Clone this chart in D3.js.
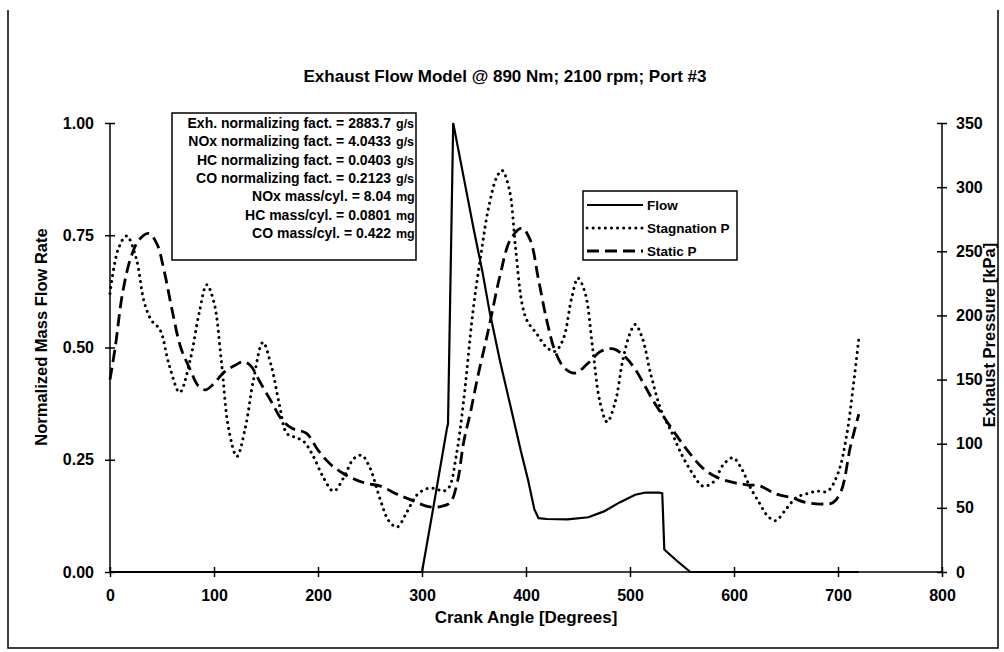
<!DOCTYPE html>
<html>
<head>
<meta charset="utf-8">
<script src="https://cdn.jsdelivr.net/npm/d3@7"></script>
<style>
  body { margin: 0; background: #fff; }
  text { font-family: "Liberation Sans", Arial, sans-serif; font-weight: bold; fill: #000; }
</style>
</head>
<body>
<div id="chart"></div>
<script>
// crank angle [deg] and normalized mass flow rate
const flowDeg = [0, 300, 311, 324, 325, 330, 340, 350, 358, 365, 375, 385, 395, 402, 408, 412, 420, 440, 460, 475, 490, 505, 515, 528, 531, 533, 545, 558, 720];
const flowVal = [0, 0, 0.145, 0.32, 0.33, 1.0, 0.88, 0.76, 0.67, 0.58, 0.47, 0.37, 0.27, 0.205, 0.14, 0.12, 0.118, 0.117, 0.122, 0.135, 0.155, 0.172, 0.177, 0.177, 0.175, 0.05, 0.025, 0, 0];

// stagnation pressure [kPa]
const stagDeg = [0, 8, 16, 25, 33, 40, 48, 57, 67, 77, 86, 93, 100, 107, 114, 122, 130, 138, 147, 155, 163, 170, 178, 186, 195, 205, 215, 225, 234, 242, 250, 260, 268, 276, 285, 295, 305, 313, 320, 326, 333, 340, 349, 357, 364, 372, 377, 384, 390, 396, 401, 410, 420, 428, 436, 444, 450, 457, 464, 471, 478, 486, 493, 500, 505, 512, 520, 530, 540, 550, 560, 570, 580, 590, 599, 607, 615, 625, 632, 640, 650, 660, 670, 680, 690, 700, 708, 715, 720];
const stagKpa = [217, 252, 262, 245, 210, 196, 189, 161, 140, 165, 203, 224, 210, 165, 112, 90, 112, 150, 179, 161, 130, 108, 105, 102, 91, 74, 63, 74, 88, 91, 81, 56, 40, 35, 46, 60, 65, 65, 63, 66, 91, 133, 203, 249, 284, 308, 313, 298, 252, 210, 196, 186, 175, 172, 182, 214, 229, 217, 175, 133, 117, 133, 165, 186, 193, 182, 154, 126, 109, 91, 77, 67, 70, 84, 89, 81, 67, 53, 44, 40, 49, 58, 61, 63, 63, 77, 105, 147, 182];

// static pressure [kPa]
const staticDeg = [0, 5, 12, 20, 28, 37, 45, 52, 60, 68, 77, 85, 92, 100, 110, 120, 128, 135, 145, 155, 165, 175, 189, 200, 212, 224, 236, 247, 260, 275, 290, 306, 318, 327, 334, 340, 347, 353, 360, 365, 375, 385, 396, 404, 412, 420, 428, 437, 447, 460, 472, 484, 495, 505, 515, 525, 540, 555, 570, 583, 598, 612, 625, 640, 655, 670, 685, 695, 703, 712, 720];
const staticKpa = [150, 175, 217, 245, 259, 264, 256, 235, 203, 175, 158, 145, 142, 147, 156, 161, 164, 161, 147, 133, 119, 112, 108, 95, 84, 77, 72, 69, 67, 61, 56, 51, 51, 54, 70, 101, 126, 150, 175, 193, 231, 259, 268, 259, 228, 196, 172, 159, 155, 163, 172, 174, 168, 158, 144, 130, 112, 95, 81, 74, 70, 68, 67, 61, 58, 54, 53, 54, 63, 98, 123];

const xTicks = [0, 100, 200, 300, 400, 500, 600, 700, 800];
const yLeftTicks = [0, 0.25, 0.5, 0.75, 1.0];
const yRightTicks = [0, 50, 100, 150, 200, 250, 300, 350];

const seriesNames = ['Flow', 'Stagnation P', 'Static P'];
const notes = [
  ['Exh. normalizing fact. = 2883.7', 'g/s'],
  ['NOx normalizing fact. = 4.0433', 'g/s'],
  ['HC normalizing fact. = 0.0403', 'g/s'],
  ['CO normalizing fact. = 0.2123', 'g/s'],
  ['NOx mass/cyl. = 8.04', 'mg'],
  ['HC mass/cyl. = 0.0801', 'mg'],
  ['CO mass/cyl. = 0.422', 'mg']
];

const width = 1004, height = 652;
const svg = d3.select('#chart').append('svg')
  .attr('width', width)
  .attr('height', height);

// frame
svg.append('path')
  .attr('d', 'M8,10 V648 H998 V10')
  .attr('fill', 'none')
  .attr('stroke', '#000')
  .attr('stroke-width', 1.5);

const x = d3.scaleLinear().domain([0, 800]).range([110, 942]);
const yL = d3.scaleLinear().domain([0, 1]).range([572, 123]);
const yR = d3.scaleLinear().domain([0, 350]).range([572, 123]);

// axes with crossing ticks
const xAxis = svg.append('g')
  .attr('transform', `translate(0,${yL(0)})`)
  .call(d3.axisBottom(x).tickValues(xTicks).tickSize(5).tickPadding(13).tickFormat(d3.format('d')));
const yAxisL = svg.append('g')
  .attr('transform', `translate(${x(0)},0)`)
  .call(d3.axisLeft(yL).tickValues(yLeftTicks).tickSize(5).tickPadding(11).tickFormat(d3.format('.2f')));
const yAxisR = svg.append('g')
  .attr('transform', `translate(${x(800)},0)`)
  .call(d3.axisRight(yR).tickValues(yRightTicks).tickSize(5).tickPadding(9).tickFormat(d3.format('d')));

[xAxis, yAxisL, yAxisR].forEach(g => {
  g.select('.domain').attr('stroke', '#000').attr('stroke-width', 1.5);
  g.selectAll('.tick line').attr('stroke', '#000').attr('stroke-width', 1.5);
  g.selectAll('.tick text').style('font-size', '16px').style('font-family', '"Liberation Sans", Arial, sans-serif').style('font-weight', 'bold');
});
xAxis.select('.domain').attr('d', `M${x(0)},0H${x(800)}`);
yAxisL.select('.domain').attr('d', `M0,${yL(0)}V${yL(1)}`);
yAxisR.select('.domain').attr('d', `M0,${yR(0)}V${yR(350)}`);
// ticks cross the axis line
xAxis.selectAll('.tick line').attr('y1', -5);
yAxisL.selectAll('.tick line').attr('x1', 5);
yAxisR.selectAll('.tick line').attr('x1', -5);

// lines
const lineL = d3.line().x(d => x(d[0])).y(d => yL(d[1]));
const lineR = d3.line().x(d => x(d[0])).y(d => yR(d[1])).curve(d3.curveCatmullRom.alpha(0.5));

svg.append('path')
  .datum(d3.zip(stagDeg, stagKpa))
  .attr('d', lineR)
  .attr('fill', 'none')
  .attr('stroke', '#000')
  .attr('stroke-width', 3)
  .attr('stroke-linecap', 'round')
  .attr('stroke-dasharray', '0.1 6');

svg.append('path')
  .datum(d3.zip(staticDeg, staticKpa))
  .attr('d', lineR)
  .attr('fill', 'none')
  .attr('stroke', '#000')
  .attr('stroke-width', 2.8)
  .attr('stroke-dasharray', '12 6');

svg.append('path')
  .datum(d3.zip(flowDeg, flowVal))
  .attr('d', lineL)
  .attr('fill', 'none')
  .attr('stroke', '#000')
  .attr('stroke-width', 2.2);

// title and axis labels
svg.append('text')
  .attr('x', 505).attr('y', 82)
  .attr('text-anchor', 'middle')
  .style('font-size', '17px')
  .text('Exhaust Flow Model @ 890 Nm; 2100 rpm;  Port #3');

svg.append('text')
  .attr('transform', 'translate(47,337) rotate(-90)')
  .attr('text-anchor', 'middle')
  .style('font-size', '16.5px')
  .text('Normalized Mass Flow Rate');

svg.append('text')
  .attr('transform', 'translate(995,335) rotate(-90)')
  .attr('text-anchor', 'middle')
  .style('font-size', '16.5px')
  .text('Exhaust Pressure [kPa]');

svg.append('text')
  .attr('x', 526).attr('y', 623)
  .attr('text-anchor', 'middle')
  .style('font-size', '17px')
  .text('Crank Angle [Degrees]');

// notes box
const box = svg.append('g');
box.append('rect')
  .attr('x', 172).attr('y', 113).attr('width', 244).attr('height', 147)
  .attr('fill', '#fff').attr('stroke', '#000').attr('stroke-width', 1.5);
notes.forEach((n, i) => {
  const yy = 128 + i * 18.3;
  box.append('text').attr('x', 391).attr('y', yy).attr('text-anchor', 'end')
    .style('font-size', '14px').text(n[0]);
  box.append('text').attr('x', 396).attr('y', yy)
    .style('font-size', '12.5px').text(n[1]);
});

// legend
const leg = svg.append('g');
leg.append('rect')
  .attr('x', 583).attr('y', 191).attr('width', 154).attr('height', 69)
  .attr('fill', '#fff').attr('stroke', '#000').attr('stroke-width', 1.5);
const legStyles = [
  { w: 2.2, dash: null, cap: 'butt' },
  { w: 3, dash: '0.1 6', cap: 'round' },
  { w: 2.8, dash: '12 6', cap: 'butt' }
];
seriesNames.forEach((name, i) => {
  const yy = 205 + i * 23;
  const s = legStyles[i];
  leg.append('line')
    .attr('x1', 587).attr('x2', 643).attr('y1', yy).attr('y2', yy)
    .attr('stroke', '#000').attr('stroke-width', s.w)
    .attr('stroke-linecap', s.cap)
    .attr('stroke-dasharray', s.dash);
  leg.append('text').attr('x', 647).attr('y', yy + 5)
    .style('font-size', '13.5px').text(name);
});
</script>
</body>
</html>
